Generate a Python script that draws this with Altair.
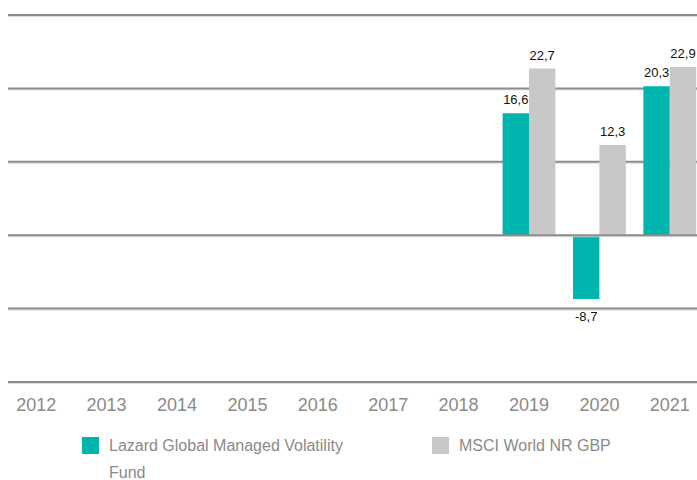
import altair as alt
import pandas as pd

years = [str(y) for y in range(2012, 2022)]
fund = [None, None, None, None, None, None, None, 16.6, -8.7, 20.3]
index = [None, None, None, None, None, None, None, 22.7, 12.3, 22.9]
series = ["Lazard Global Managed Volatility Fund", "MSCI World NR GBP"]
colors = ["#00b5ad", "#c8c8c8"]
grid_values = [-20, -10, 10, 20, 30]
zero_value = [0]

rows = []
for y, f, m in zip(years, fund, index):
    if f is not None:
        rows.append({"year": y, "series": series[0], "value": f})
    if m is not None:
        rows.append({"year": y, "series": series[1], "value": m})
df = pd.DataFrame(rows)
df["label"] = df["value"].map(lambda v: f"{v:.1f}".replace(".", ","))

FONT = "Liberation Sans"
YSCALE = alt.Scale(domain=[-20, 30], nice=False, zero=False)

x = alt.X(
    "year:N",
    sort=years,
    scale=alt.Scale(domain=years, range=[-7, 697], paddingInner=0.25, paddingOuter=0.125),
    axis=alt.Axis(title=None, labelAngle=0, ticks=False, domain=False, grid=False,
                  labelPadding=14, labelFontSize=18, labelColor="#8a8a8a", labelFont=FONT),
)
xo = alt.XOffset("series:N", sort=series,
                 scale=alt.Scale(domain=series, paddingInner=0, paddingOuter=0))
y = alt.Y("value:Q", scale=YSCALE, axis=None)

legend = alt.Legend(
    orient="none", legendX=74, legendY=422, direction="horizontal", columns=2,
    columnPadding=89, title=None, symbolType="square", symbolSize=289,
    symbolStrokeWidth=0, labelFontSize=16, labelColor="#8a8a8a", labelFont=FONT,
    labelOffset=10, labelLimit=400, padding=0,
    labelExpr="datum.label == 'Lazard Global Managed Volatility Fund' ? 'Lazard Global Managed Volatility' : datum.label",
)

grid_df = pd.DataFrame({"value": grid_values})
zero_df = pd.DataFrame({"value": zero_value})

grid_shadow = alt.Chart(grid_df).mark_rule(color="#dcdcdc", strokeWidth=1, yOffset=1.5).encode(y=y)
grid = alt.Chart(grid_df).mark_rule(color="#8c8c8c", strokeWidth=2).encode(y=y)

base = alt.Chart(df)

bars = base.mark_bar(opacity=1).encode(
    x=x, xOffset=xo, y=y,
    color=alt.Color("series:N", scale=alt.Scale(domain=series, range=colors), legend=legend),
)

pos_text = base.transform_filter("datum.value >= 0").mark_text(
    baseline="alphabetic", dy=-9, fontSize=13, font=FONT, color="#111111"
).encode(x=x, xOffset=xo, y=y, text="label:N")

neg_text = base.transform_filter("datum.value < 0").mark_text(
    baseline="top", dy=12, fontSize=13, font=FONT, color="#111111"
).encode(x=x, xOffset=xo, y=y, text="label:N")

zero_shadow = alt.Chart(zero_df).mark_rule(color="#dcdcdc", strokeWidth=1, yOffset=1.5).encode(y=y)
zero = alt.Chart(zero_df).mark_rule(color="#8c8c8c", strokeWidth=2).encode(y=y)

fund_tail = alt.Chart(pd.DataFrame({"t": ["Fund"]})).mark_text(
    align="left", baseline="alphabetic", fontSize=16, font=FONT, color="#8a8a8a"
).encode(text="t:N", x=alt.value(101), y=alt.value(463))

chart = alt.layer(grid_shadow, grid, bars, pos_text, neg_text, zero_shadow, zero, fund_tail).properties(
    width=689, height=367,
    autosize=alt.AutoSizeParams(type="none"),
    padding={"left": 8, "top": 15, "right": 0, "bottom": 98},
).configure_view(stroke=None)

chart.save("out.html", embed_options={"renderer": "svg", "actions": False})
